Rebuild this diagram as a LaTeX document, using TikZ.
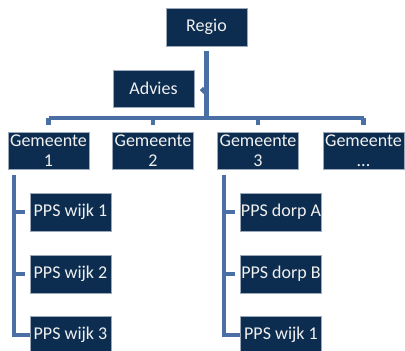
\documentclass[tikz,border=0pt]{standalone}
\usepackage{fontspec}
\setmainfont{Carlito}
\definecolor{boxnavy}{HTML}{0C2D50}
\definecolor{boxedge}{HTML}{9AA8BA}
\definecolor{linkblue}{HTML}{4A6FA5}
\tikzset{
  unit/.style={fill=boxnavy, draw=boxedge, line width=0.6pt, text=white!94!black,
    minimum width=81pt, minimum height=37pt, inner sep=0pt, align=center,
    font=\fontsize{18}{20}\selectfont},
  link/.style={draw=linkblue, line width=4.5pt}
}
\begin{document}
\begin{tikzpicture}[x=1pt,y=-1pt]
    \useasboundingbox (0,0) rectangle (405,351);

	\node[unit, minimum height=38pt] (regio) at (206.5,27) {Regio};
	\node[unit] (advies) at (153.5,88.5) {Advies};

	\node[unit] (g1) at (48.5,150.5) {Gemeente\\1};
	\node[unit] (g2) at (153,150.5) {Gemeente\\2};
	\node[unit] (g3) at (258,150.5) {Gemeente\\3};
	\node[unit] (g4) at (363.5,150.5) {Gemeente\\...};

	\node[unit, minimum height=38pt] (w1) at (70.5,212) {PPS wijk 1};
	\node[unit, minimum height=38pt] (w2) at (70.5,274) {PPS wijk 2};
	\node[unit, minimum height=38pt] (w3) at (70.5,335) {PPS wijk 3};

	\node[unit, minimum height=38pt] (d1) at (281,212) {PPS dorp A};
	\node[unit, minimum height=38pt] (d2) at (281,274) {PPS dorp B};
	\node[unit, minimum height=38pt] (d3) at (281,335) {PPS wijk 1};

	% regio -> gemeenten
	\coordinate (bus) at (206.5,118);
	\draw[link] ([yshift=-5pt]regio.south) -- (bus);
	\draw[link] ([yshift=-5pt]regio.south |- advies.east) -- ([xshift=7pt]advies.east);
	\draw[link] (bus -| g1.north) -- (bus -| g4.north);
	\foreach \g in {g1,g2,g3,g4}
	    {
		  \draw[link] (bus -| \g.north) -- ([yshift=7pt]\g.north);
	    }

	% gemeente -> pps
	\coordinate (t1) at (14,175);
	\coordinate (t3) at (224,175);
	\draw[link] (t1) |- (w3.west);
	\draw[link] (t3) |- (d3.west);
	\foreach \b in {w1,w2}
	    \draw[link] (t1 |- \b.west) -- ([xshift=-5pt]\b.west);
	\foreach \b in {d1,d2}
	    \draw[link] (t3 |- \b.west) -- ([xshift=-5pt]\b.west);
    \end{tikzpicture}
\end{document}
